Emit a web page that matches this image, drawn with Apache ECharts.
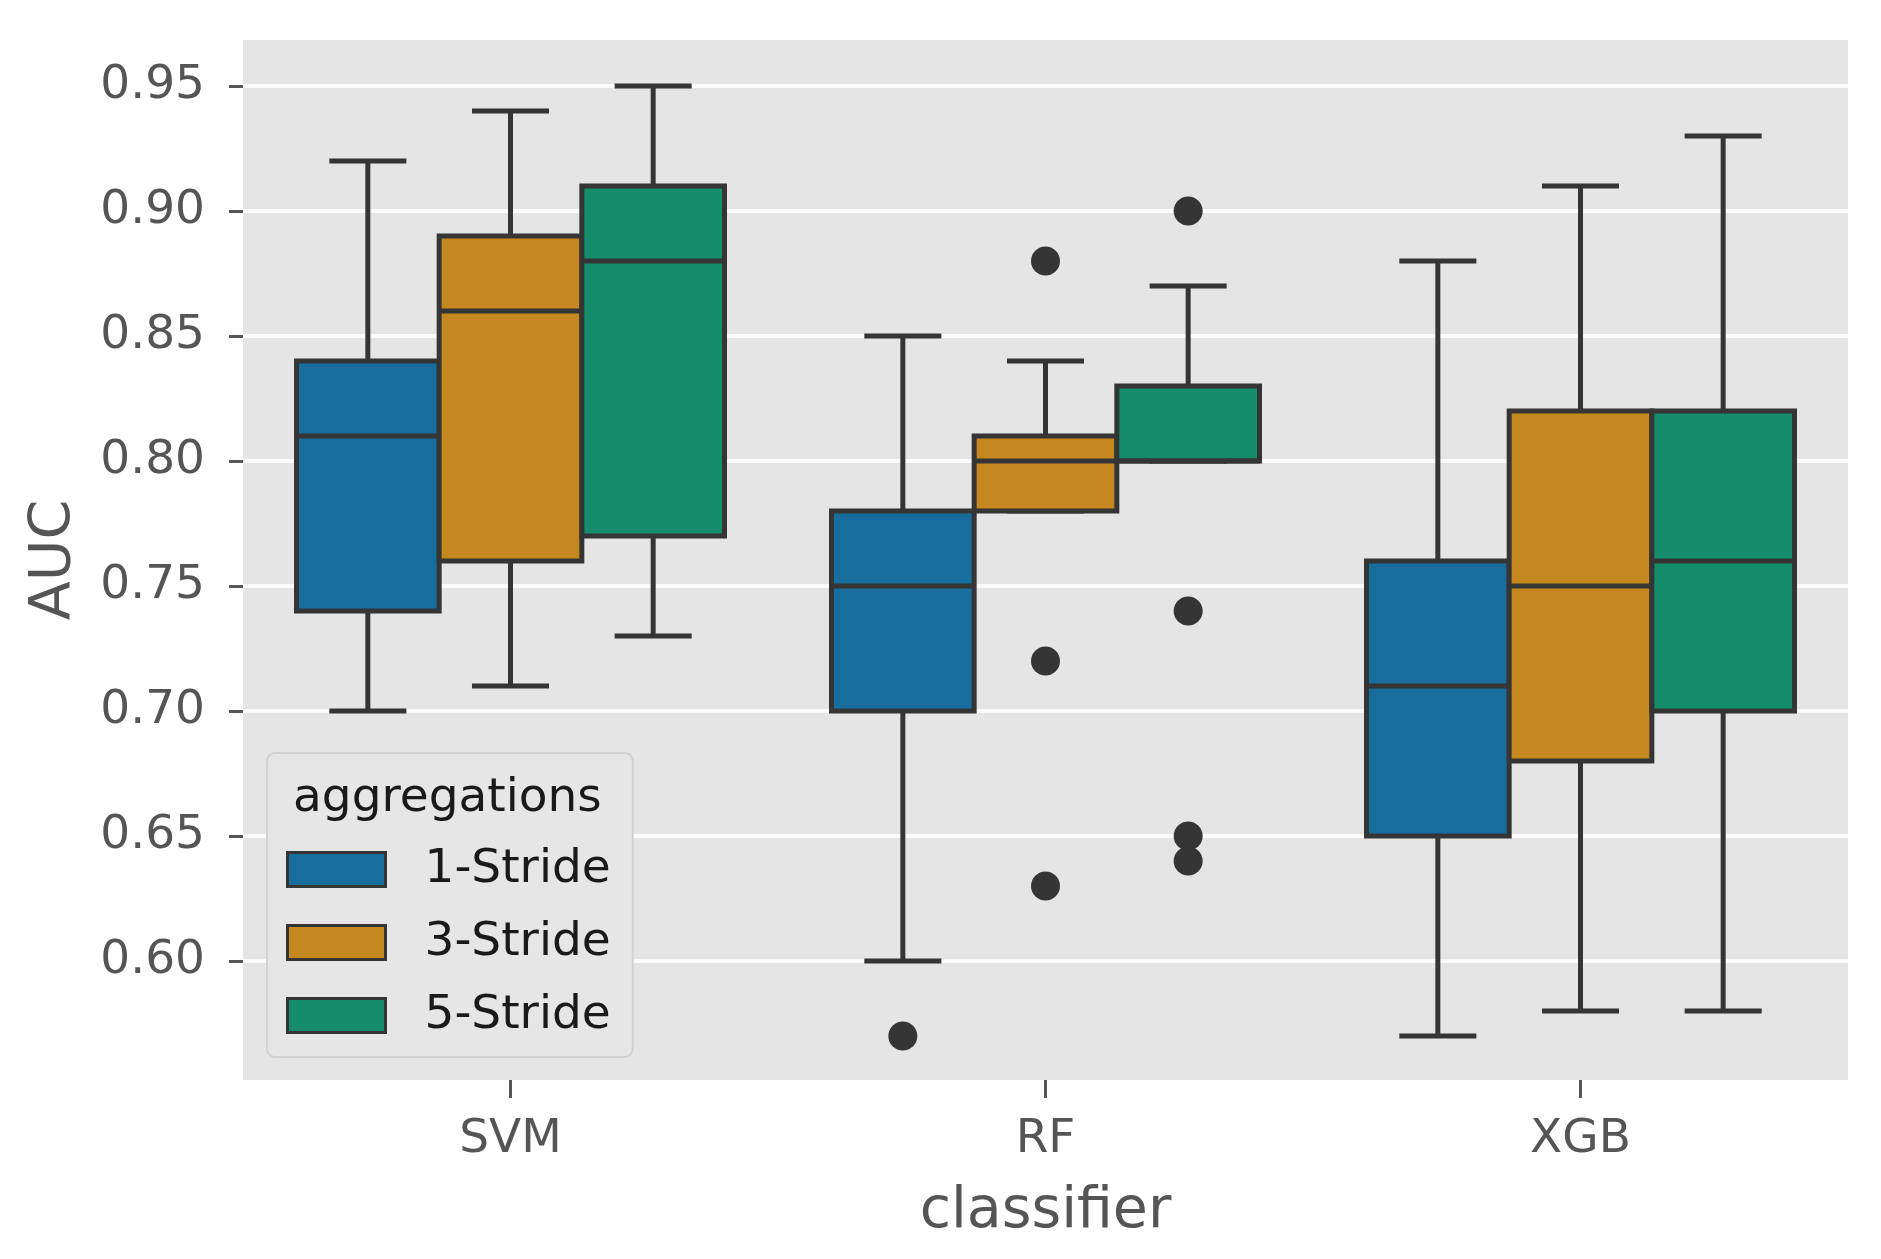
<!DOCTYPE html>
<html>
<head>
<meta charset="utf-8">
<style>
html,body{margin:0;padding:0;background:#fff;}
#chart{width:1881px;height:1259px;}
</style>
<script src="https://cdn.jsdelivr.net/npm/echarts@6/dist/echarts.min.js"></script>
</head>
<body>
<div id="chart"></div>
<script>
// ---- data ----
const categories = ['SVM', 'RF', 'XGB'];
const hues = ['1-Stride', '3-Stride', '5-Stride'];
const hueColors = ['#176d9c', '#c4881f', '#168d6a'];
// [lowWhisker, Q1, median, Q3, highWhisker] per category
const stride1 = [[0.70, 0.74, 0.81, 0.84, 0.92], [0.60, 0.70, 0.75, 0.78, 0.85], [0.57, 0.65, 0.71, 0.76, 0.88]];
const stride3 = [[0.71, 0.76, 0.86, 0.89, 0.94], [0.78, 0.78, 0.80, 0.81, 0.84], [0.58, 0.68, 0.75, 0.82, 0.91]];
const stride5 = [[0.73, 0.77, 0.88, 0.91, 0.95], [0.80, 0.80, 0.80, 0.83, 0.87], [0.58, 0.70, 0.76, 0.82, 0.93]];
// outliers: [categoryIndex, value]
const outliers1 = [[1, 0.57]];
const outliers3 = [[1, 0.88], [1, 0.72], [1, 0.63]];
const outliers5 = [[1, 0.90], [1, 0.74], [1, 0.65], [1, 0.64]];
const yTicks = [0.60, 0.65, 0.70, 0.75, 0.80, 0.85, 0.90, 0.95];
const yMin = 0.5524, yMax = 0.9684;

const boxSets = [stride1, stride3, stride5];
const outlierSets = [outliers1, outliers3, outliers5];
const lineColor = '#353535';
const LW = 5;

function boxRenderer(h) {
  return function (params, api) {
    const cat = api.value(0);
    const band = api.size([1, 0])[0];
    const w = band * 0.8 / 3;
    const cx = api.coord([cat, api.value(3)])[0] + (h - 1) * w;
    const y = i => api.coord([cat, api.value(i)])[1];
    const yLo = y(1), yQ1 = y(2), yMed = y(3), yQ3 = y(4), yHi = y(5);
    const capW = w * 0.54;
    const ls = { stroke: lineColor, lineWidth: LW, lineCap: 'butt' };
    return {
      type: 'group',
      children: [
        { type: 'line', shape: { x1: cx, y1: yQ3, x2: cx, y2: yHi }, style: ls },
        { type: 'line', shape: { x1: cx, y1: yQ1, x2: cx, y2: yLo }, style: ls },
        { type: 'line', shape: { x1: cx - capW / 2, y1: yHi, x2: cx + capW / 2, y2: yHi }, style: ls },
        { type: 'line', shape: { x1: cx - capW / 2, y1: yLo, x2: cx + capW / 2, y2: yLo }, style: ls },
        { type: 'rect', shape: { x: cx - w / 2, y: yQ3, width: w, height: yQ1 - yQ3 },
          style: { fill: hueColors[h], stroke: lineColor, lineWidth: LW } },
        { type: 'line', shape: { x1: cx - w / 2, y1: yMed, x2: cx + w / 2, y2: yMed }, style: ls }
      ]
    };
  };
}
function outlierRenderer(h) {
  return function (params, api) {
    const cat = api.value(0);
    const band = api.size([1, 0])[0];
    const w = band * 0.8 / 3;
    const p = api.coord([cat, api.value(1)]);
    return { type: 'circle', shape: { cx: p[0] + (h - 1) * w, cy: p[1], r: 14.5 }, style: { fill: lineColor } };
  };
}

const series = [];
hues.forEach((name, h) => {
  series.push({
    name: name,
    type: 'custom',
    renderItem: boxRenderer(h),
    itemStyle: { color: hueColors[h] },
    encode: { x: 0, y: [1, 2, 3, 4, 5] },
    data: boxSets[h].map((v, i) => [i].concat(v)),
    clip: false,
    z: 3
  });
});
hues.forEach((name, h) => {
  series.push({
    type: 'custom',
    renderItem: outlierRenderer(h),
    encode: { x: 0, y: 1 },
    data: outlierSets[h],
    z: 4
  });
});

const chart = echarts.init(document.getElementById('chart'));
const FONT = 'DejaVu Sans';
chart.setOption({
  backgroundColor: '#ffffff',
  animation: false,
  textStyle: { fontFamily: FONT },
  grid: { left: 243, right: 33, top: 40, bottom: 179, show: true, backgroundColor: '#e5e5e5', borderWidth: 0 },
  xAxis: {
    type: 'category',
    data: categories,
    name: 'classifier',
    nameLocation: 'middle',
    nameGap: 104,
    nameTextStyle: { fontSize: 57, color: '#555555', fontFamily: FONT },
    axisLine: { show: false },
    axisTick: { show: true, alignWithLabel: true, length: 18, lineStyle: { color: '#555555', width: 3 } },
    axisLabel: { fontSize: 47, color: '#555555', margin: 36, fontFamily: FONT },
    splitLine: { show: false }
  },
  yAxis: {
    type: 'value',
    min: yMin,
    max: yMax,
    name: 'AUC',
    nameLocation: 'middle',
    nameGap: 159,
    nameRotate: 90,
    nameTextStyle: { fontSize: 57, color: '#555555', fontFamily: FONT },
    axisLine: { show: false },
    axisTick: { show: true, customValues: yTicks, length: 14, lineStyle: { color: '#555555', width: 3 } },
    axisLabel: { customValues: yTicks, fontSize: 47, color: '#555555', margin: 38, fontFamily: FONT,
      formatter: v => v.toFixed(2) },
    splitLine: { show: true, lineStyle: { color: '#fbfbfb', width: 4 } }
  },
  legend: {
    data: hues,
    orient: 'vertical',
    left: 267,
    top: 753,
    padding: [93, 22, 18, 19],
    itemWidth: 98,
    itemHeight: 34,
    itemGap: 26,
    icon: 'rect',
    backgroundColor: '#e6e6e6',
    borderColor: '#d2d2d2',
    borderWidth: 2,
    borderRadius: 8,
    itemStyle: { borderColor: '#353535', borderWidth: 3 },
    textStyle: { fontSize: 47, color: '#1a1a1a', fontFamily: FONT, padding: [0, 0, 0, 34] },
    selectedMode: false
  },
  graphic: [{
    type: 'text',
    left: 423 - 130,
    top: 803 - 28,
    z: 100,
    style: { text: 'aggregations', fontSize: 47, fill: '#1a1a1a', fontFamily: FONT, width: 260, align: 'center' }
  }],
  series: series
});
</script>
</body>
</html>
